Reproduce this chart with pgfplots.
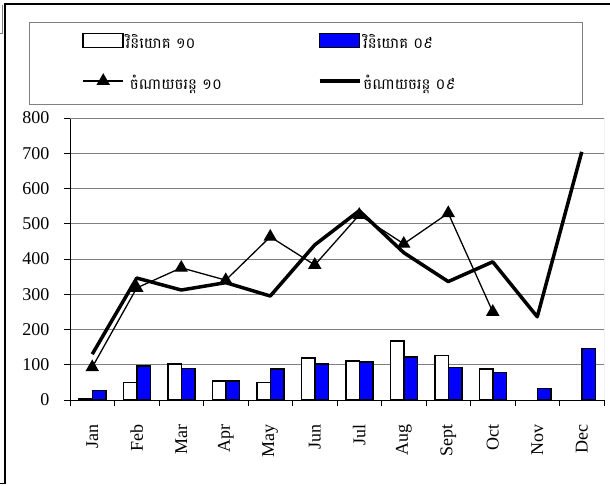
\documentclass[border=0pt]{standalone}
\usepackage{pgfplots}
\pgfplotsset{compat=1.18}
\usepackage{pgfplotstable}
\usepackage{fontspec}
\setmainfont{Liberation Serif}
\newfontfamily\khmer[Script=Khmer]{Battambang}
\definecolor{xlblue}{RGB}{0,0,255}
\definecolor{xlgray}{RGB}{128,128,128}

\pgfplotstableread{
m w10 w09 c10 c09
0 3 27 93 130
1 49 96 318 346
2 102 89 375 312
3 54 54 340 333
4 49 88 463 295
5 119 102 383 440
6 111 108 525 537
7 168 122 443 418
8 126 92 530 336
9 88 78 250 392
10 nan 32 nan 236
11 nan 146 nan 704
}\data

\begin{document}
\begin{tikzpicture}[x=1pt,y=1pt]
\useasboundingbox (0,0) rectangle (610,485);
\draw[line width=2.5pt] (3.75,481) -- (610,481);
\draw[line width=2.5pt] (5,482.25) -- (5,1);
\draw[xlgray, line width=0.8pt] (0,452) -- (2.5,452) -- (2.5,480);
\draw[line width=0.8pt] (0,1.5) -- (5,1.5);
\begin{axis}[
  at={(70pt,85pt)}, anchor=south west,
  scale only axis, width=534pt, height=282pt,
  xmin=-0.5, xmax=11.5, ymin=0, ymax=800,
  axis x line*=bottom, axis y line*=left,
  axis line style={black, line width=1pt},
  ytick={0,100,...,800},
  ymajorgrids,
  grid style={xlgray, line width=1pt},
  tick align=outside, major tick length=6pt,
  tick style={black, line width=1pt},
  xtick={-0.5,0.5,...,11.5}, xticklabels={},
  extra x ticks={0,1,...,11},
  extra x tick labels={Jan,Feb,Mar,Apr,May,Jun,Jul,Aug,Sept,Oct,Nov,Dec},
  extra x tick style={major tick length=0pt, grid=none,
     tick label style={yshift=-21pt, rotate=90, anchor=east}},
  tick label style={font=\fontsize{18}{21}\selectfont},
  yticklabel style={xshift=-11pt},
  /pgf/number format/assume math mode=true,
  legend columns=2,
  legend cell align=left,
  legend style={at={(rel axis cs:-0.0768,1.340)}, anchor=north west,
    draw=xlgray, line width=1pt, inner xsep=53pt, inner ysep=10pt,
    font=\khmer\fontsize{15}{18}\selectfont,
    nodes={inner xsep=2pt, inner ysep=0pt, text height=12pt, text depth=5pt},
    row sep=20pt},
]
\addplot[ybar, bar width=13.5pt, bar shift=-6.75pt, draw=black, line width=1.5pt, fill=white,
  legend image code/.code={\draw[black, line width=1.5pt, fill=white] (0pt,-2pt) rectangle (40pt,12pt);}]
  table[x=m, y=w10] {\data};
\addlegendentry{\makebox[190pt][l]{វិនិយោគ ១០}}
\addplot[ybar, bar width=13.5pt, bar shift=6.75pt, draw=black, line width=1.5pt, fill=xlblue,
  legend image code/.code={\draw[black, line width=1.5pt, fill=xlblue] (0pt,-2pt) rectangle (40pt,12pt);}]
  table[x=m, y=w09] {\data};
\addlegendentry{\makebox[164pt][l]{វិនិយោគ ០៩}}
\addplot[black, line width=1.3pt, mark=triangle*, mark size=6.5pt, mark options={solid},
  legend image code/.code={\draw[black, line width=1.3pt] (0pt,5pt) -- (40pt,5pt);
     \fill[black] (20pt,5pt) ++(90:6.5pt) -- ++(-120:11.26pt) -- ++(0:11.26pt) -- cycle;}]
  table[x=m, y=c10] {\data};
\addlegendentry{\makebox[190pt][l]{\hspace{4pt}ចំណាយចរន្ត ១០}}
\addplot[black, line width=3.5pt, line join=round, mark=none,
  legend image code/.code={\draw[black, line width=3.5pt] (0pt,5pt) -- (40pt,5pt);}]
  table[x=m, y=c09] {\data};
\addlegendentry{\makebox[164pt][l]{ចំណាយចរន្ត ០៩}}
\draw[xlgray, line width=1pt] (rel axis cs:0,1) -- (rel axis cs:1,1) -- (rel axis cs:1,0);
\end{axis}
\end{tikzpicture}
\end{document}
